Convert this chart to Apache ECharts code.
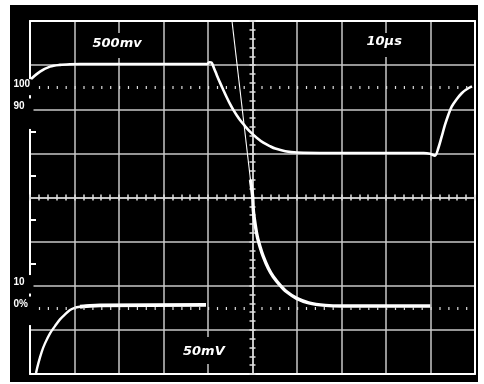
<!DOCTYPE html>
<html><head><meta charset="utf-8">
<script src="https://cdn.jsdelivr.net/npm/echarts@6.0.0/dist/echarts.min.js"></script>
<style>
html,body{margin:0;padding:0;background:#fff;width:484px;height:384px;overflow:hidden}
#bezel{position:absolute;left:10px;top:5px;width:468px;height:377px;background:#000}
#chart{position:absolute;left:0;top:0;width:484px;height:384px}
</style></head><body>
<div id="bezel"></div><div id="chart"></div>
<script>
// x: time in µs (10 µs/div, screen centre = 0); y: amplitude in screen divisions
const ch1Trace = [[-49.77,2.687],[-47.75,2.853],[-45.5,2.966],[-43.25,3.005],[-41.0,3.02],[-38.76,3.025],[-10.22,3.025],[-9.66,3.066],[-9.21,3.057],[-8.65,2.93],[-8.04,2.778],[-7.3,2.603],[-6.56,2.438],[-5.8,2.272],[-5.06,2.12],[-4.31,1.984],[-3.55,1.864],[-2.81,1.757],[-1.69,1.621],[-0.56,1.492],[0.94,1.356],[2.43,1.243],[3.93,1.163],[5.12,1.109],[7.37,1.05],[10.0,1.02],[17.41,1.01],[38.47,1.01],[39.88,0.993],[41.0,0.948],[41.75,1.116],[42.51,1.379],[43.25,1.644],[44.0,1.871],[44.76,2.059],[45.88,2.227],[47.01,2.363],[48.13,2.454],[49.32,2.517]];
const ch2Rise = [[-48.65,-3.98],[-48.13,-3.76],[-47.37,-3.497],[-46.63,-3.306],[-45.5,-3.079],[-44.38,-2.914],[-43.26,-2.762],[-42.13,-2.649],[-41.01,-2.551],[-40.11,-2.506],[-38.76,-2.476],[-36.51,-2.454]];
const ch2Flat = [[-38.76,-2.476],[-36.51,-2.454],[-34.27,-2.444],[-10.45,-2.433]];
const ch2Edge = [[-4.61,4.0],[-0.45,0.397]];
const ch2Decay = [[-0.45,0.397],[0.04,0.018],[0.18,-0.283],[0.56,-0.585],[1.08,-0.889],[1.69,-1.116],[2.43,-1.342],[3.55,-1.605],[4.67,-1.796],[6.18,-1.984],[7.68,-2.136],[9.93,-2.286],[12.63,-2.386],[16.36,-2.444],[20.11,-2.46],[39.95,-2.46]];
const levelValues = [2.5, 2, -2, -2.5];
const levelLabels = ['100', '90', '10', '0%'];
const refLevels = [2.5, -2.5];
const captions = ['500mv', '10μs', '50mV'];

// ---- layout / style ----
const X_MIN = -50, X_MAX = 50, X_DIV = 10, Y_MIN = -4, Y_MAX = 4, Y_DIV = 1;
const GRID_C = '#c8c8c8', BORDER_C = '#ffffff';
const gapCovers = [[2.5, 16], [1.899, 30.5], [-1.967, 18.5], [-2.568, 28.5]];
const halfTicks = [1.5, 0.5, -0.5, -1.5];
const captionPos = [
  {left: 88.5, top: 33, padding: [3, 4, 6, 4]},
  {left: 362.5, top: 33, padding: [1, 4, 7, 4]},
  {left: 179, top: 337, padding: [7, 4, 4, 4]}
];

const chart = echarts.init(document.getElementById('chart'), null, {renderer: 'canvas'});
const none = {show: false};
function xBase(extra) {
  return Object.assign({type: 'value', min: X_MIN, max: X_MAX, interval: X_DIV,
    axisLabel: none, axisTick: none, splitLine: none, minorTick: none, minorSplitLine: none}, extra);
}
function yBase(extra) {
  return Object.assign({type: 'value', min: Y_MIN, max: Y_MAX, interval: Y_DIV,
    axisLabel: none, axisTick: none, splitLine: none, minorTick: none, minorSplitLine: none}, extra);
}
const tickStyle = {color: '#e0e0e0', width: 1.5};
function centerTicks(inside) {
  return {
    axisLine: {show: true, onZero: true, lineStyle: {color: GRID_C, width: 1.5}},
    axisTick: {show: true, inside: inside, length: 3, lineStyle: tickStyle},
    minorTick: {show: true, splitNumber: 5, length: 3, lineStyle: tickStyle}
  };
}
const rich = {};
gapCovers.forEach((g, i) => { rich['g' + i] = {width: 5, height: g[1], backgroundColor: '#000', fontSize: 1, lineHeight: g[1]}; });

const lineSeries = (name, data, width, smooth) => ({
  name, type: 'line', data, xAxisIndex: 0, yAxisIndex: 0, symbol: 'none', showSymbol: false,
  smooth: smooth, lineStyle: {color: '#fff', width: width}, silent: true, z: 3
});

chart.setOption({
  animation: false,
  backgroundColor: 'transparent',
  grid: {left: 30, right: 9, top: 21, bottom: 10, containLabel: false, outerBoundsMode: 'none'},
  title: captions.map((t, i) => ({
    text: t, left: captionPos[i].left, top: captionPos[i].top, padding: captionPos[i].padding,
    backgroundColor: '#000', z: 6,
    textStyle: {color: '#fff', fontFamily: 'DejaVu Sans', fontWeight: 'bold', fontStyle: 'italic', fontSize: 13, lineHeight: 16}
  })),
  xAxis: [
    xBase({position: 'bottom', axisLine: {show: true, onZero: false, lineStyle: {color: BORDER_C, width: 2}},
      splitLine: {show: true, lineStyle: {color: GRID_C, width: 1.5}}}),
    xBase({position: 'top', axisLine: {show: true, onZero: false, lineStyle: {color: BORDER_C, width: 2}}}),
    xBase(Object.assign({position: 'bottom'}, centerTicks(true))),
    xBase(Object.assign({position: 'bottom'}, centerTicks(false)))
  ],
  yAxis: [
    yBase({position: 'left', axisLine: {show: true, onZero: false, lineStyle: {color: BORDER_C, width: 2}},
      splitLine: {show: true, lineStyle: {color: GRID_C, width: 1.5}}}),
    yBase({position: 'right', axisLine: {show: true, onZero: false, lineStyle: {color: BORDER_C, width: 2}}}),
    yBase(Object.assign({position: 'left'}, centerTicks(true))),
    yBase(Object.assign({position: 'left'}, centerTicks(false))),
    yBase({position: 'left', axisLine: {show: false, onZero: false},
      axisTick: {show: true, inside: true, length: 6, customValues: halfTicks, lineStyle: {color: '#fff', width: 2}}}),
    yBase({position: 'left', z: 1, axisLine: {show: false, onZero: false},
      axisLabel: {show: true, customValues: gapCovers.map(g => g[0]), margin: -1, align: 'center',
        formatter: (v) => { const i = gapCovers.findIndex(g => Math.abs(g[0] - v) < 1e-6); return '{g' + i + '|\u00a0}'; },
        rich: rich}}),
    yBase({position: 'left', z: 1, axisLine: {show: false, onZero: false},
      axisLabel: {show: true, customValues: levelValues, margin: 16.5, align: 'left', verticalAlign: 'bottom',
        lineHeight: 6.5, color: '#fff', fontFamily: 'Liberation Sans', fontWeight: 'bold', fontSize: 10,
        formatter: (v) => levelLabels[levelValues.findIndex(l => Math.abs(l - v) < 1e-6)]}})
  ],
  series: [
    {type: 'line', data: [], xAxisIndex: 0, yAxisIndex: 0, silent: true, z: 2,
      markLine: {silent: true, symbol: 'none', label: {show: false},
        lineStyle: {color: '#dcdcdc', width: 3, type: [1.2, 7.7]},
        data: refLevels.map(l => [{coord: [X_MIN + X_DIV / 5, l]}, {coord: [X_MAX, l]}])}},
    lineSeries('ch1', ch1Trace, 2.6, 0.3),
    lineSeries('ch2rise', ch2Rise, 2.4, 0.3),
    lineSeries('ch2flat', ch2Flat, 3.8, 0.2),
    lineSeries('ch2edge', ch2Edge, 1.1, false),
    lineSeries('ch2decay', ch2Decay, 3.4, 0.3)
  ]
});
</script>
</body></html>
